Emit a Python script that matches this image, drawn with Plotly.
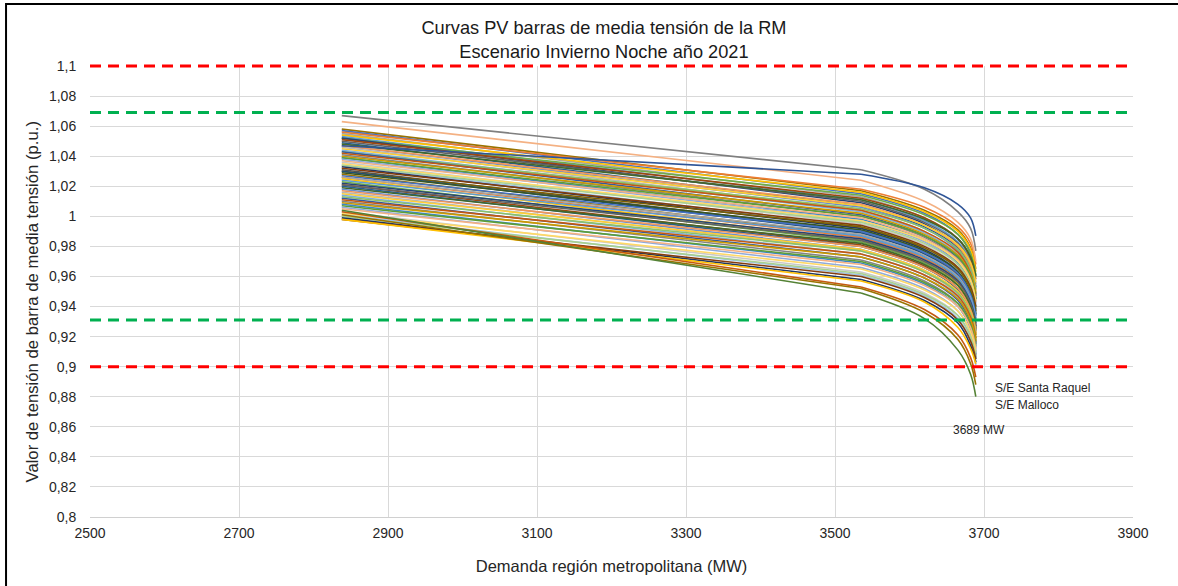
import plotly.graph_objects as go

# ---------------- text ----------------
title_lines = ["Curvas PV barras de media tensión de la RM",
               "Escenario Invierno Noche año 2021"]
x_title = "Demanda región metropolitana (MW)"
y_title = "Valor de tensión de barra de media tensión (p.u.)"
label_santa_raquel = "S/E Santa Raquel"
label_malloco = "S/E Malloco"
label_limit_mw = "3689 MW"

# ---------------- axes ----------------
x_range = [2500, 3900]
y_range = [0.8, 1.1]
x_ticks = [2500, 2700, 2900, 3100, 3300, 3500, 3700, 3900]
y_ticks = [0.8, 0.82, 0.84, 0.86, 0.88, 0.9, 0.92, 0.94, 0.96, 0.98,
           1.0, 1.02, 1.04, 1.06, 1.08, 1.1]

# ---------------- limits ----------------
limit_red = [1.1, 0.9]
limit_green = [1.069, 0.931]

# ---------------- PV curves ----------------
demand_mw = [2838, 3535, 3620, 3665, 3682, 3689]

voltage_top = [
    [1.067, 1.031, 1.018, 1.003, 0.992, 0.977],
    [1.063, 1.024, 1.010, 0.996, 0.985, 0.970],
    [1.047, 1.028, 1.019, 1.008, 0.999, 0.987],
]

voltage_main = [
    [1.058, 1.017, 1.004, 0.991, 0.979, 0.965],
    [1.057, 1.015, 1.002, 0.988, 0.976, 0.960],
    [1.056, 1.018, 1.006, 0.993, 0.982, 0.968],
    [1.055, 1.013, 0.999, 0.985, 0.972, 0.955],
    [1.054, 1.016, 1.003, 0.990, 0.978, 0.963],
    [1.053, 1.011, 0.997, 0.983, 0.970, 0.952],
    [1.052, 1.014, 1.001, 0.988, 0.975, 0.961],
    [1.052, 1.009, 0.995, 0.980, 0.966, 0.948],
    [1.051, 1.012, 0.999, 0.985, 0.972, 0.958],
    [1.050, 1.010, 0.996, 0.982, 0.968, 0.953],
    [1.049, 1.007, 0.993, 0.979, 0.965, 0.945],
    [1.048, 1.011, 0.998, 0.985, 0.973, 0.960],
    [1.047, 1.006, 0.992, 0.977, 0.963, 0.944],
    [1.047, 1.008, 0.994, 0.980, 0.967, 0.950],
    [1.046, 1.004, 0.990, 0.975, 0.961, 0.942],
    [1.045, 1.007, 0.994, 0.981, 0.969, 0.956],
    [1.044, 1.003, 0.989, 0.974, 0.960, 0.940],
    [1.043, 1.005, 0.992, 0.978, 0.965, 0.951],
    [1.043, 1.001, 0.987, 0.972, 0.958, 0.938],
    [1.042, 1.004, 0.990, 0.976, 0.962, 0.947],
    [1.041, 1.000, 0.986, 0.971, 0.957, 0.936],
    [1.040, 1.002, 0.988, 0.974, 0.961, 0.949],
    [1.039, 0.998, 0.984, 0.969, 0.955, 0.934],
    [1.039, 1.000, 0.987, 0.973, 0.960, 0.945],
    [1.038, 0.997, 0.983, 0.968, 0.953, 0.932],
    [1.037, 0.999, 0.985, 0.971, 0.958, 0.943],
    [1.036, 0.995, 0.981, 0.966, 0.951, 0.930],
    [1.035, 0.997, 0.984, 0.970, 0.957, 0.944],
    [1.034, 0.993, 0.979, 0.964, 0.950, 0.931],
    [1.034, 0.996, 0.982, 0.968, 0.954, 0.939],
    [1.033, 0.992, 0.978, 0.963, 0.948, 0.927],
    [1.032, 0.994, 0.980, 0.966, 0.953, 0.940],
    [1.031, 0.990, 0.976, 0.961, 0.946, 0.925],
    [1.030, 0.993, 0.979, 0.965, 0.951, 0.937],
    [1.030, 0.989, 0.975, 0.960, 0.945, 0.924],
    [1.029, 0.991, 0.977, 0.963, 0.949, 0.935],
    [1.028, 0.987, 0.973, 0.958, 0.943, 0.921],
    [1.027, 0.990, 0.976, 0.962, 0.948, 0.934],
    [1.026, 0.986, 0.972, 0.957, 0.942, 0.922],
    [1.026, 0.988, 0.974, 0.960, 0.946, 0.931],
    [1.025, 0.984, 0.970, 0.955, 0.940, 0.919],
    [1.024, 0.987, 0.973, 0.959, 0.945, 0.932],
    [1.023, 0.983, 0.969, 0.954, 0.939, 0.918],
    [1.022, 0.985, 0.971, 0.957, 0.943, 0.929],
    [1.021, 0.981, 0.967, 0.952, 0.937, 0.916],
    [1.021, 0.984, 0.970, 0.956, 0.942, 0.928],
    [1.020, 0.980, 0.966, 0.951, 0.936, 0.915],
    [1.019, 0.982, 0.968, 0.954, 0.940, 0.926],
    [1.018, 0.978, 0.964, 0.949, 0.934, 0.913],
    [1.017, 0.980, 0.966, 0.952, 0.938, 0.925],
    [1.016, 0.977, 0.963, 0.948, 0.933, 0.912],
    [1.015, 0.978, 0.964, 0.950, 0.936, 0.922],
    [1.014, 0.975, 0.961, 0.946, 0.931, 0.910],
    [1.013, 0.977, 0.963, 0.949, 0.935, 0.921],
    [1.012, 0.973, 0.959, 0.944, 0.929, 0.908],
    [1.011, 0.975, 0.961, 0.947, 0.933, 0.919],
    [1.010, 0.971, 0.957, 0.942, 0.927, 0.906],
    [1.009, 0.973, 0.959, 0.945, 0.931, 0.917],
    [1.008, 0.969, 0.955, 0.940, 0.925, 0.905],
    [1.007, 0.970, 0.956, 0.942, 0.928, 0.914],
    [1.006, 0.966, 0.952, 0.937, 0.922, 0.903],
    [1.005, 0.968, 0.954, 0.940, 0.926, 0.912],
    [1.003, 0.963, 0.949, 0.934, 0.919, 0.902],
    [1.002, 0.965, 0.951, 0.937, 0.923, 0.910],
    [1.001, 0.961, 0.947, 0.932, 0.917, 0.901],
    [1.000, 0.962, 0.948, 0.934, 0.920, 0.907],
    [0.999, 0.958, 0.944, 0.929, 0.914, 0.903],
    [0.998, 0.960, 0.946, 0.931, 0.917, 0.905],
]

voltage_low = [
    [0.998, 0.957, 0.943, 0.926, 0.912, 0.902],
    [1.003, 0.953, 0.938, 0.921, 0.906, 0.893],
    [1.001, 0.952, 0.936, 0.918, 0.902, 0.888],
    [1.004, 0.949, 0.932, 0.911, 0.895, 0.880],
]

low_names = ["Barra baja 1", "Barra baja 2", label_santa_raquel, label_malloco]

# ---------------- styles ----------------
palette = [
    "#997300", "#4472C4", "#ED7D31", "#A5A5A5", "#FFC000", "#5B9BD5",
    "#70AD47", "#264478", "#9E480E", "#636363", "#255E91", "#43682B",
    "#698ED0", "#F1975A", "#B7B7B7", "#FFCD33", "#7CAFDD", "#8CC168",
    "#335AA1", "#C55A11", "#848484", "#CC9A00", "#3C86C6", "#5E9E37",
    "#8FAADC", "#F4B183", "#C9C9C9", "#FFD966", "#9DC3E6", "#A9D18E",
    "#203864", "#843C0C", "#525252", "#7F6000", "#1F4E79", "#385723",
]
top_colors = ["#7F7F7F", "#F4B183", "#2F5597"]
low_colors = ["#FFC000", "#C55A11", "#997300", "#548235"]

font_family = "Liberation Sans, Arial, sans-serif"
LINE_W = 1.6

fig = go.Figure()


def add_curve(row, color, name):
    # straight low-load part, then the smooth knee near the collapse point
    fig.add_trace(go.Scatter(
        x=demand_mw[:2], y=row[:2], mode="lines", name=name,
        line=dict(color=color, width=LINE_W)))
    fig.add_trace(go.Scatter(
        x=demand_mw[1:], y=row[1:], mode="lines", name=name,
        line=dict(color=color, width=LINE_W, shape="spline", smoothing=1.0)))


for i, row in enumerate(voltage_main):
    add_curve(row, palette[i % len(palette)], f"Barra {i + 1}")

for row, col, nm in zip(voltage_low, low_colors, low_names):
    add_curve(row, col, nm)

for j, (row, col) in enumerate(zip(voltage_top, top_colors)):
    add_curve(row, col, f"Barra alta {j + 1}")


def to_paper(v):
    return (v - y_range[0]) / (y_range[1] - y_range[0])


shapes = []
for v in limit_red:
    shapes.append(dict(type="line", xref="paper", yref="paper", x0=0, x1=1,
                       y0=to_paper(v), y1=to_paper(v), layer="above",
                       line=dict(color="#FF0000", width=3, dash="11px,7px")))
for v in limit_green:
    shapes.append(dict(type="line", xref="paper", yref="paper", x0=0, x1=1,
                       y0=to_paper(v), y1=to_paper(v), layer="above",
                       line=dict(color="#00B050", width=3, dash="11px,7px")))
# outer chart border
shapes.append(dict(type="rect", xref="paper", yref="paper",
                   x0=-0.0805, x1=1.08, y0=-0.2, y1=1.1375, layer="above",
                   line=dict(color="#000000", width=2), fillcolor="rgba(0,0,0,0)"))

annotations = [
    dict(x=3712, y=0.8859, xref="x", yref="y", text=label_santa_raquel,
         showarrow=False, xanchor="left", yanchor="middle",
         font=dict(family=font_family, size=12, color="#262626")),
    dict(x=3712, y=0.8742, xref="x", yref="y", text=label_malloco,
         showarrow=False, xanchor="left", yanchor="middle",
         font=dict(family=font_family, size=12, color="#262626")),
    dict(x=3693, y=0.8582, xref="x", yref="y", text=label_limit_mw,
         showarrow=False, xanchor="center", yanchor="middle",
         font=dict(family=font_family, size=12, color="#262626")),
    # y-axis title
    dict(x=-0.0556, y=0.4756, xref="paper", yref="paper", text=y_title,
         showarrow=False, textangle=-90, xanchor="center", yanchor="middle",
         font=dict(family=font_family, size=16.7, color="#262626")),
]

fig.update_layout(
    width=1178, height=586,
    margin=dict(l=90, r=45, t=66, b=69, pad=0),
    paper_bgcolor="#FFFFFF", plot_bgcolor="#FFFFFF",
    showlegend=False,
    font=dict(family=font_family, color="#262626"),
    title=dict(text="<br>".join(title_lines), x=0.5127, xanchor="center",
               y=0.942, yanchor="middle",
               font=dict(family=font_family, size=18.2, color="#1A1A1A")),
    shapes=shapes,
    annotations=annotations,
)

fig.update_xaxes(
    range=x_range, tickmode="array", tickvals=x_ticks,
    ticktext=[str(v) for v in x_ticks],
    showgrid=True, gridcolor="#D9D9D9", gridwidth=1,
    showline=True, linecolor="#D0D0D0", linewidth=1,
    zeroline=False, ticks="outside", ticklen=3, tickcolor="rgba(0,0,0,0)",
    tickfont=dict(family=font_family, size=14, color="#262626"),
    title=dict(text=x_title, standoff=20,
               font=dict(family=font_family, size=16.5, color="#262626")),
)
fig.update_yaxes(
    range=y_range, tickmode="array", tickvals=y_ticks,
    ticktext=[f"{v:g}".replace(".", ",") for v in y_ticks],
    showgrid=True, gridcolor="#D9D9D9", gridwidth=1,
    showline=False, zeroline=False,
    ticks="outside", ticklen=10, tickcolor="rgba(0,0,0,0)",
    tickfont=dict(family=font_family, size=14, color="#262626"),
)

fig.write_html("out.html", config={"displayModeBar": False},
               post_script="document.body.style.margin='0px';")
